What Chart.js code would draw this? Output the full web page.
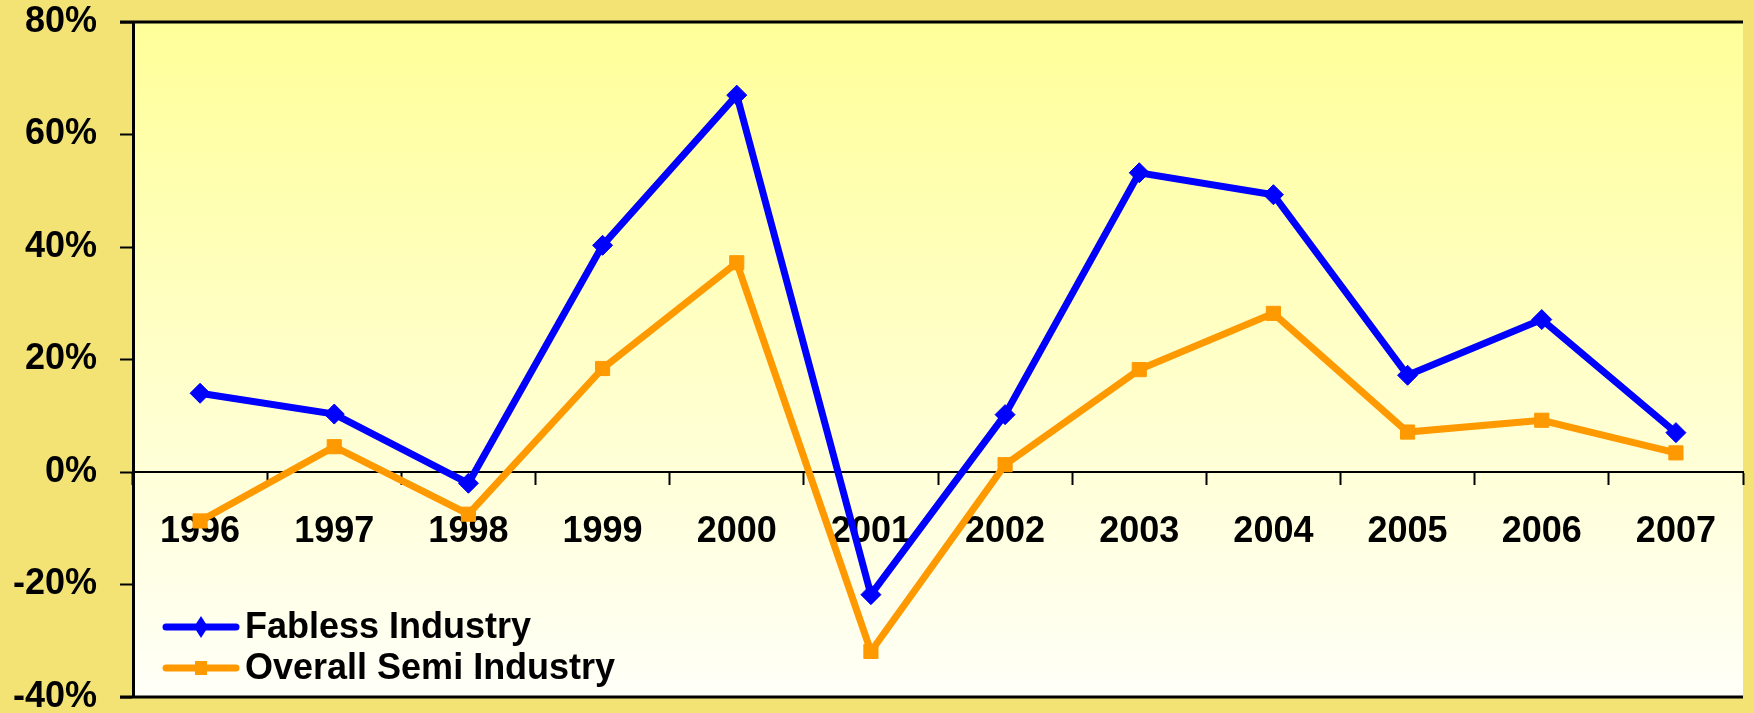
<!DOCTYPE html>
<html>
<head>
<meta charset="utf-8">
<title>Fabless vs Overall Semi Industry Growth</title>
<script src="https://cdn.jsdelivr.net/npm/chart.js@4.4.1/dist/chart.umd.min.js"></script>
<style>
  html, body { margin: 0; padding: 0; background: #f2e374; overflow: hidden; }
  canvas { display: block; }
</style>
</head>
<body>
<canvas id="growthChart" width="1754" height="713"></canvas>
<script>
// Annual revenue growth, %
const years = ['1996', '1997', '1998', '1999', '2000', '2001', '2002', '2003', '2004', '2005', '2006', '2007'];
const fablessGrowth = [14, 10.3, -2, 40.3, 67, -21.8, 10.2, 53.2, 49.3, 17.2, 27.1, 7];
const semiGrowth = [-8.7, 4.5, -7.5, 18.4, 37.2, -31.9, 1.3, 18.2, 28.2, 7.1, 9.2, 3.4];
const seriesNames = ['Fabless Industry', 'Overall Semi Industry'];

const FONT = "'Liberation Sans', Arial, sans-serif";
const BLUE = '#0000ff';
const ORANGE = '#ff9900';

// Gold page + pale yellow fade behind the plot
const backdrop = {
  id: 'backdrop',
  beforeDraw(chart) {
    const { ctx, chartArea: a, width, height } = chart;
    ctx.save();
    ctx.fillStyle = '#f2e374';
    ctx.fillRect(0, 0, width, height);
    const g = ctx.createLinearGradient(0, a.top, 0, a.bottom);
    g.addColorStop(0, '#ffff99');
    g.addColorStop(1, '#fffff8');
    ctx.fillStyle = g;
    ctx.fillRect(a.left, a.top, a.right - a.left, a.bottom - a.top);
    ctx.restore();
  },
  afterDraw(chart) {
    const { ctx, chartArea: a } = chart;
    ctx.save();
    ctx.strokeStyle = '#000';
    ctx.lineWidth = 3;
    ctx.beginPath();
    ctx.moveTo(a.left - 13, a.top);
    ctx.lineTo(a.right, a.top);
    ctx.moveTo(a.left - 13, a.bottom);
    ctx.lineTo(a.right, a.bottom);
    ctx.stroke();
    ctx.restore();
  }
};

// Legend inside the plot, bottom left: line sample with marker, then name
const insideLegend = {
  id: 'insideLegend',
  afterDraw(chart) {
    const { ctx, chartArea: a } = chart;
    const rows = [a.bottom - 70, a.bottom - 29];
    ctx.save();
    chart.data.datasets.forEach((ds, i) => {
      const y = rows[i];
      const x0 = a.left + 33, x1 = a.left + 103, xm = (x0 + x1) / 2;
      ctx.strokeStyle = ds.borderColor;
      ctx.lineWidth = 7;
      ctx.lineCap = 'round';
      ctx.beginPath();
      ctx.moveTo(x0, y);
      ctx.lineTo(x1, y);
      ctx.stroke();
      ctx.fillStyle = ds.borderColor;
      ctx.beginPath();
      if (ds.pointStyle === 'rectRot') {
        ctx.moveTo(xm, y - 11);
        ctx.lineTo(xm + 7, y);
        ctx.lineTo(xm, y + 11);
        ctx.lineTo(xm - 7, y);
        ctx.closePath();
      } else {
        ctx.rect(xm - 6, y - 7, 12, 14);
      }
      ctx.fill();
      ctx.fillStyle = '#000';
      ctx.font = `bold 36px ${FONT}`;
      ctx.textBaseline = 'middle';
      ctx.textAlign = 'left';
      ctx.fillText(ds.label, a.left + 112, y + 1);
    });
    ctx.restore();
  }
};

new Chart(document.getElementById('growthChart'), {
  type: 'line',
  data: {
    labels: years,
    datasets: [
      {
        label: seriesNames[0],
        data: fablessGrowth,
        borderColor: BLUE,
        backgroundColor: BLUE,
        borderWidth: 7,
        pointStyle: 'rectRot',
        pointRadius: 10,
        pointBorderWidth: 1,
        tension: 0,
        order: 1
      },
      {
        label: seriesNames[1],
        data: semiGrowth,
        borderColor: ORANGE,
        backgroundColor: ORANGE,
        borderWidth: 7,
        pointStyle: 'rect',
        pointRadius: 10,
        pointBorderWidth: 1,
        tension: 0,
        order: 0
      }
    ]
  },
  options: {
    responsive: false,
    animation: false,
    layout: { padding: { top: 22, bottom: 16, left: 0, right: 0 } },
    plugins: {
      legend: { display: false },
      tooltip: { enabled: false }
    },
    scales: {
      x: {
        type: 'category',
        position: { y: 0 },
        offset: true,
        grid: { offset: true, drawOnChartArea: false, tickLength: 12, tickColor: '#000', tickWidth: 2 },
        border: { display: true, color: '#000', width: 2 },
        ticks: {
          color: '#000',
          font: { family: FONT, size: 36, weight: 'bold' },
          padding: 26,
          maxRotation: 0,
          autoSkip: false
        }
      },
      y: {
        min: -40,
        max: 80,
        grid: { drawOnChartArea: false, tickLength: 13, tickColor: '#000', tickWidth: 2 },
        border: { display: true, color: '#000', width: 3 },
        ticks: {
          stepSize: 20,
          color: '#000',
          font: { family: FONT, size: 36, weight: 'bold' },
          padding: 23,
          callback: v => v + '%'
        },
        afterFit(scale) {
          scale.width = 133;
          scale.paddingTop = 0;
          scale.paddingBottom = 0;
        }
      }
    }
  },
  plugins: [backdrop, insideLegend]
});
</script>
</body>
</html>
